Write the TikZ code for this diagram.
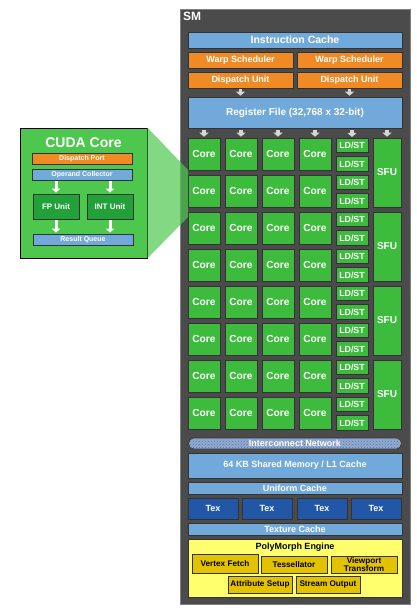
\documentclass[tikz,border=0pt]{standalone}
\usepackage{fontspec}
\setmainfont{Liberation Sans}
\usetikzlibrary{arrows.meta,patterns}

\definecolor{smgray}{HTML}{4B4B4B}
\definecolor{cacheblue}{HTML}{72A9DB}
\definecolor{schedorange}{HTML}{F08A24}
\definecolor{coregreen}{HTML}{3DBB3D}
\definecolor{cudagreen}{HTML}{4EC74E}
\definecolor{unitgreen}{HTML}{22A03A}
\definecolor{texblue}{HTML}{2157A6}
\definecolor{polyyellow}{HTML}{FFFF6E}
\definecolor{polygold}{HTML}{E3C300}
\definecolor{netblue}{HTML}{93ABD3}
\definecolor{feedgray}{HTML}{D6D6D6}

\begin{document}
\begin{tikzpicture}[x=1pt, y=-1pt,
    blk/.style={draw=black!80, line width=0.6pt, inner sep=0pt, text=white,
                font=\bfseries\fontsize{9}{10}\selectfont},
    cache/.style={blk, fill=cacheblue},
    sched/.style={blk, fill=schedorange, minimum width=105, minimum height=16},
    core/.style={blk, fill=coregreen, minimum width=32, minimum height=32, font=\bfseries\fontsize{10.2}{11}\selectfont},
    ldst/.style={blk, fill=coregreen, minimum width=32, minimum height=14.5, font=\bfseries\fontsize{8.8}{10}\selectfont},
    sfu/.style={blk, fill=coregreen, minimum width=28, minimum height=69, font=\bfseries\fontsize{10}{10}\selectfont},
    tex/.style={blk, fill=texblue, minimum width=50, minimum height=21, font=\bfseries\fontsize{9}{10}\selectfont},
    poly/.style={blk, fill=polygold, text=black, minimum width=66, minimum height=17,
                 font=\bfseries\fontsize{8.2}{8.4}\selectfont, align=center},
    small/.style={blk, minimum width=100, minimum height=11, font=\bfseries\fontsize{7}{8}\selectfont},
    feed/.style={draw=feedgray, line width=3.5pt, -{Triangle[width=9pt,length=4pt]}},
    wfeed/.style={draw=white, line width=3pt, -{Triangle[width=8pt,length=4pt]}}]
    \useasboundingbox (0,0) rectangle (417,611);

    % SM frame
    \node[fill=smgray, draw=gray, line width=0.8pt, minimum width=230, minimum height=595] (sm) at (295,306.5) {};
    \node[anchor=north west, text=white, font=\bfseries\fontsize{12}{12}\selectfont, inner sep=0pt] (smlabel) at (183,12) {SM};

    % front end
    \node[cache, minimum width=214, minimum height=16, font=\bfseries\fontsize{10.5}{11}\selectfont] (icache) at (295,40) {Instruction Cache};
    \node[sched] (warp-1) at (240.5,60) {Warp Scheduler};
    \node[sched] (warp-2) at (349.5,60) {Warp Scheduler};
    \node[sched] (disp-1) at (240.5,80) {Dispatch Unit};
    \node[sched] (disp-2) at (349.5,80) {Dispatch Unit};
    \node[cache, minimum width=214, minimum height=31, font=\bfseries\fontsize{10}{10}\selectfont] (regfile) at (295,112.5) {Register File (32,768 x 32-bit)};
    \foreach \d in {1,2}
        \draw[feed, shorten <=1pt, shorten >=1pt] (disp-\d.south) -- (regfile.north -| disp-\d);

    % cores, load/store units and SFUs
    \foreach \r in {1,...,8} {
        \foreach \c/\x in {1/204,2/241,3/278,4/315}
            \node[core] (core-\r-\c) at (\x,{154+37*(\r-1)}) {Core};
        \node[ldst] (ldst-\r-a) at (352,{145.5+37*(\r-1)}) {LD/ST};
        \node[ldst] (ldst-\r-b) at (352,{164+37*(\r-1)}) {LD/ST};
    }
    \foreach \k in {1,...,4}
        \node[sfu] (sfu-\k) at (387,{172.5+74*(\k-1)}) {SFU};

    % feeds from the register file
    \foreach \n in {core-1-1,core-1-2,core-1-3,core-1-4,ldst-1-a,sfu-1}
        \draw[feed, shorten <=2pt, shorten >=1pt] (regfile.south -| \n) -- (\n.north);

    % memory side
    \node[draw=black!80, line width=0.6pt, fill=netblue, rounded corners=5.5pt, minimum width=213, minimum height=11,
          inner sep=0pt, postaction={pattern=crosshatch dots, pattern color=cacheblue!70!black}] (net) at (295,443.5) {};
    \node[text=white, font=\bfseries\fontsize{9}{10}\selectfont] (netlabel) at (net) {Interconnect Network};
    \node[cache, minimum width=214, minimum height=25] (shmem) at (295,465.5) {64 KB Shared Memory / L1 Cache};
    \node[cache, minimum width=214, minimum height=12] (ucache) at (295,488) {Uniform Cache};
    \foreach \t/\x in {1/213,2/267,3/322,4/376}
        \node[tex] (tex-\t) at (\x,508.5) {Tex};
    \node[cache, minimum width=214, minimum height=12] (tcache) at (295,529) {Texture Cache};

    % PolyMorph engine
    \node[draw=black!80, line width=0.6pt, fill=polyyellow, minimum width=214, minimum height=58] (polymorph) at (295,568) {};
    \node[font=\bfseries\fontsize{9}{10}\selectfont, inner sep=0pt] (polytitle) at (295,547) {PolyMorph Engine};
    \node[poly, minimum height=19] (vfetch) at (225,563.5) {Vertex Fetch};
    \node[poly] (tess) at (294,564.5) {Tessellator};
    \node[poly] (viewport) at (364,564.5) {Viewport\\Transform};
    \node[poly, minimum width=64] (attrib) at (260,584.5) {Attribute Setup};
    \node[poly, minimum width=64] (stream) at (328,584.5) {Stream Output};

    % CUDA core blow-up
    \node[draw=black, line width=0.8pt, fill=cudagreen, minimum width=127, minimum height=130] (cudacore) at (83.5,193) {};
    \coordinate (zoomtop) at (188,170);
    \coordinate (zoombot) at (188,217);
    \fill[cudagreen, opacity=0.7] (cudacore.north east) -- (zoomtop) -- (zoombot) -- (cudacore.south east) -- cycle;
    \node[text=white, font=\bfseries\fontsize{14}{14}\selectfont, inner sep=0pt] (cudatitle) at (83.5,143) {CUDA Core};
    \node[small, fill=schedorange] (dport) at (82,158.5) {Dispatch Port};
    \node[small, fill=cacheblue] (opcol) at (82,174.5) {Operand Collector};
    \node[blk, fill=unitgreen, minimum width=46, minimum height=25, font=\bfseries\fontsize{8}{8}\selectfont] (fpunit) at (56,206.5) {FP Unit};
    \node[blk, fill=unitgreen, minimum width=46, minimum height=25, font=\bfseries\fontsize{8}{8}\selectfont] (intunit) at (110,206.5) {INT Unit};
    \node[small, fill=cacheblue] (rqueue) at (83,239.5) {Result Queue};
    \foreach \u in {fpunit,intunit} {
        \draw[wfeed, shorten <=1pt, shorten >=1pt] (opcol.south -| \u) -- (\u.north);
        \draw[wfeed, shorten <=1pt, shorten >=1pt] (\u.south) -- (rqueue.north -| \u);
    }
\end{tikzpicture}
\end{document}
